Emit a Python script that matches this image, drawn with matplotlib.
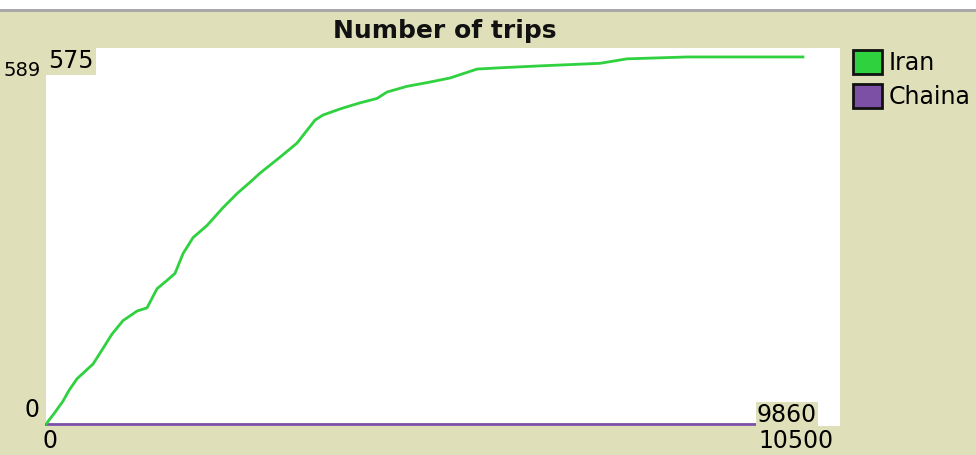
import matplotlib
matplotlib.use("Agg")
import matplotlib.pyplot as plt
from matplotlib.patches import Rectangle

BG = "#dfdfb9"
COLOR_IRAN = "#2fd13e"
COLOR_CHAINA = "#7c50a4"

# Iran trips (tick, cumulative trips)
iran_ticks = [0, 110, 225, 300, 410, 520, 622, 740, 873, 1018, 1203, 1336,
              1468, 1600, 1706, 1812, 1944, 2129, 2341, 2526, 2700, 2830,
              3094, 3319, 3557, 3663, 3900, 4150, 4377, 4509, 4774, 5050,
              5342, 5700, 6004, 6533, 7326, 7683, 8490, 10010]
iran_trips = [0, 17, 36, 52, 71, 83, 94, 116, 141, 162, 177, 182,
              212, 225, 236, 267, 292, 311, 339, 361, 379, 393,
              418, 440, 476, 484, 494, 503, 510, 520, 529, 535,
              542, 556, 558, 561, 565, 572, 575, 575]
# Chaina stays at zero the whole run
chaina_ticks = [0, 10010]
chaina_trips = [0, 0]

x_max = 10500
y_max = 589
legend_names = ["Iran", "Chaina"]
legend_colors = [COLOR_IRAN, COLOR_CHAINA]

W, H = 976, 455
FS = 17
fig = plt.figure(figsize=(W / 100, H / 100), dpi=100)
fig.patch.set_facecolor(BG)

# white strip + grey rule at the very top
fig.patches.append(Rectangle((0, 1 - 9 / H), 1, 9 / H, transform=fig.transFigure,
                             facecolor="white", edgecolor="none"))
fig.patches.append(Rectangle((0, 1 - 12 / H), 1, 3 / H, transform=fig.transFigure,
                             facecolor="#a8a8a8", edgecolor="none"))

ax = fig.add_axes([46 / W, 1 - 426 / H, (840 - 46) / W, (426 - 48) / H])
ax.set_facecolor("white")
ax.plot(chaina_ticks, chaina_trips, color=COLOR_CHAINA, lw=2, clip_on=False)
ax.plot(iran_ticks, iran_trips, color=COLOR_IRAN, lw=2)
ax.set_xlim(0, x_max)
ax.set_ylim(-3, y_max)
ax.set_xticks([])
ax.set_yticks([])
for s in ax.spines.values():
    s.set_visible(False)

# title
fig.text(445 / W, 1 - 31 / H, "Number of trips", ha="center", va="center",
         fontsize=18, fontweight="bold", color="#111111")

# axis min / max labels
fig.text(41 / W, 1 - 70 / H, str(y_max), ha="right", va="center", fontsize=14)
fig.text(39 / W, 1 - 410 / H, "0", ha="right", va="center", fontsize=FS)
fig.text(50 / W, 1 - 441 / H, "0", ha="center", va="center", fontsize=FS)
fig.text(834 / W, 1 - 441 / H, str(x_max), ha="right", va="center", fontsize=FS)

# hover readouts
fig.text(48 / W, 1 - 61 / H, "575", ha="left", va="center", fontsize=FS,
         bbox=dict(boxstyle="square,pad=0.1", facecolor=BG, edgecolor="none"))
fig.text(757 / W, 1 - 415 / H, "9860", ha="left", va="center", fontsize=FS,
         bbox=dict(boxstyle="square,pad=0.05", facecolor=BG, edgecolor="none"))

# legend
for i, (name, c) in enumerate(zip(legend_names, legend_colors)):
    top = 50 + i * 34
    fig.patches.append(Rectangle((853 / W, 1 - (top + 24) / H), 29 / W, 24 / H,
                                 transform=fig.transFigure, facecolor=c,
                                 edgecolor="#111111", lw=2))
    fig.text(889 / W, 1 - (top + 13) / H, name, ha="left", va="center", fontsize=FS)

fig.savefig("out.png", dpi=100, facecolor=BG)
